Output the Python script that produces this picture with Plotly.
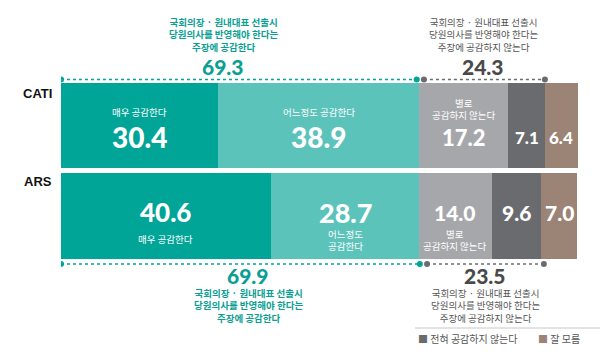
import plotly.graph_objects as go

# ---------------- data ----------------
groups = ["CATI", "ARS"]
responses = ["매우 공감한다", "어느정도 공감한다", "별로 공감하지 않는다", "전혀 공감하지 않는다", "잘 모름"]
cati_values = [30.4, 38.9, 17.2, 7.1, 6.4]
ars_values = [40.6, 28.7, 14.0, 9.6, 7.0]
agree_totals = [69.3, 69.9]        # CATI, ARS
disagree_totals = [24.3, 23.5]     # CATI, ARS
cati_inner_labels = ["매우 공감한다", "어느정도 공감한다", "별로<br>공감하지 않는다", "", ""]
ars_inner_labels = ["매우 공감한다", "어느정도<br>공감한다", "별로<br>공감하지 않는다", "", ""]
agree_caption = "국회의장 · 원내대표 선출시<br>당원의사를 반영해야 한다는<br>주장에 공감한다"
disagree_caption = "국회의장 · 원내대표 선출시<br>당원의사를 반영해야 한다는<br>주장에 공감하지 않는다"
legend_items = ["전혀 공감하지 않는다", "잘 모름"]

# ---------------- style ----------------
W, H = 600, 356
colors = ["#00a598", "#5cc3bb", "#a6a7aa", "#6a6b6f", "#9b8375"]
teal_text = "#0a9f92"
grey_text = "#555555"
KR = "Noto Sans CJK KR"
NUM = "Lato"
x0_px, x1_px = 61, 578
row_y = {"CATI": 1, "ARS": 0}
center_px = {"CATI": 125.5, "ARS": 216.0}
unit_px = 90.5


def py(p):  # pixel -> paper y
    return 1 - p / H


def px(p):
    return p / W


y_top = 1 + center_px["CATI"] / unit_px
y_bot = 1 - (H - center_px["CATI"]) / unit_px

fig = go.Figure()

rows = [cati_values, ars_values]
for i, name in enumerate(responses):
    fig.add_trace(go.Bar(
        x=[rows[0][i], rows[1][i]],
        y=[row_y["CATI"], row_y["ARS"]],
        orientation="h",
        width=0.945,
        marker=dict(color=colors[i], line=dict(width=0)),
        name=name,
        showlegend=False,
        hoverinfo="skip",
    ))

annotations = []


def add_text(text, x, y, size, color, xref="x", yref="y", yshift=0, xshift=0,
             family=KR, weight="normal", xanchor="center"):
    annotations.append(dict(
        text=text, x=x, y=y, xref=xref, yref=yref, xshift=xshift, yshift=yshift,
        showarrow=False, xanchor=xanchor, yanchor="middle", borderpad=0,
        font=dict(family=family, size=size, color=color, weight=weight),
    ))


# inside-bar labels
num_sizes = {"CATI": [28, 28, 22, 17, 17], "ARS": [26, 27, 21, 21, 21]}
for g, vals, labels in [("CATI", cati_values, cati_inner_labels), ("ARS", ars_values, ars_inner_labels)]:
    c = center_px[g]
    cum = 0
    for i, v in enumerate(vals):
        mid = cum + v / 2
        cum += v
        two = "<br>" in labels[i]
        if g == "CATI":
            num_px = 137
            lab_px = 109 if two else 112
        else:
            num_px = 212
            lab_px = 240 if two else 239
        add_text(f"{v:.1f}", mid, row_y[g], num_sizes[g][i], "white",
                 yshift=-(num_px - c), family=NUM, weight=900)
        if labels[i]:
            add_text(labels[i], mid, row_y[g], 9.5, "white", yshift=-(lab_px - c))

# category labels
add_text("CATI", px(53), py(94), 13, "#111111", xref="paper", yref="paper",
         family="Liberation Sans", weight="bold", xanchor="right")
add_text("ARS", px(53), py(181), 13, "#111111", xref="paper", yref="paper",
         family="Liberation Sans", weight="bold", xanchor="right")

# top (CATI)
add_text(agree_caption, px(223), py(35), 9.5, teal_text, xref="paper", yref="paper", weight="bold")
add_text(f"{agree_totals[0]:.1f}", px(223), py(67), 21, teal_text, xref="paper", yref="paper",
         family=NUM, weight=900)
add_text(disagree_caption, px(483), py(35), 9.5, grey_text, xref="paper", yref="paper")
add_text(f"{disagree_totals[0]:.1f}", px(483), py(67), 21, "#4a4a4a", xref="paper", yref="paper",
         family=NUM, weight=900)

# bottom (ARS)
add_text(f"{agree_totals[1]:.1f}", px(248), py(275), 21, teal_text, xref="paper", yref="paper",
         family=NUM, weight=900)
add_text(agree_caption, px(248), py(305), 9.5, teal_text, xref="paper", yref="paper", weight="bold")
add_text(f"{disagree_totals[1]:.1f}", px(485), py(275), 21, "#4a4a4a", xref="paper", yref="paper",
         family=NUM, weight=900)
add_text(disagree_caption, px(485), py(305), 9.5, grey_text, xref="paper", yref="paper")

# legend
add_text(f"<span style='color:{colors[3]}'>■</span> {legend_items[0]}", px(417), py(338), 10,
         grey_text, xref="paper", yref="paper", xanchor="left")
add_text(f"<span style='color:{colors[4]}'>■</span> {legend_items[1]}", px(537), py(338), 10,
         grey_text, xref="paper", yref="paper", xanchor="left")

# dotted guide lines
line_y = {"CATI": 1 + (center_px["CATI"] - 79.5) / unit_px,
          "ARS": 1 - (264 - center_px["CATI"]) / unit_px}
for gi, g in enumerate(groups):
    yv = line_y[g]
    a = agree_totals[gi]
    d = disagree_totals[gi]
    fig.add_trace(go.Scatter(
        x=[0, a - 0.5], y=[yv, yv], mode="lines+markers",
        line=dict(color=colors[0], width=1.5, dash="dot"),
        marker=dict(size=6, color=colors[0]), showlegend=False, hoverinfo="skip"))
    fig.add_trace(go.Scatter(
        x=[a + 0.9, a + d], y=[yv, yv], mode="lines+markers",
        line=dict(color=colors[3], width=1.5, dash="dot"),
        marker=dict(size=6, color=colors[3]), showlegend=False, hoverinfo="skip"))

shapes = [dict(type="line", xref="paper", yref="paper", x0=px(415), x1=px(600),
               y0=py(328), y1=py(328), line=dict(color="#c8c8c8", width=1))]

fig.update_layout(
    width=W, height=H,
    margin=dict(l=0, r=0, t=0, b=0),
    barmode="stack",
    paper_bgcolor="white", plot_bgcolor="white",
    xaxis=dict(domain=[x0_px / W, x1_px / W], range=[0, 100], visible=False, fixedrange=True),
    yaxis=dict(domain=[0, 1], range=[y_bot, y_top], visible=False, fixedrange=True),
    annotations=annotations,
    shapes=shapes,
    showlegend=False,
)

fig.write_html("out.html", config={"displayModeBar": False},
               post_script="document.body.style.margin='0';document.body.style.overflow='hidden';")
